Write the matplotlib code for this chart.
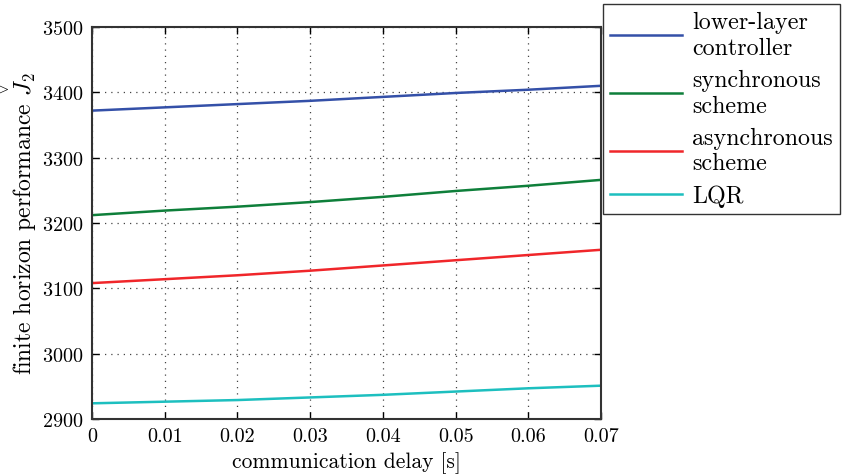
import numpy as np
import matplotlib
matplotlib.use('Agg')
import matplotlib.pyplot as plt

plt.rcParams['font.family'] = ['cmr10', 'DejaVu Serif']
plt.rcParams['mathtext.fontset'] = 'cm'
plt.rcParams['axes.formatter.use_mathtext'] = True

delay = [0, 0.01, 0.02, 0.03, 0.04, 0.05, 0.06, 0.07]
lower_layer = [3372, 3377, 3382, 3387, 3393, 3399, 3404, 3410]
synchronous = [3212, 3219, 3225, 3232, 3240, 3249, 3257, 3266]
asynchronous = [3108, 3114, 3120, 3127, 3135, 3143, 3151, 3159]
lqr = [2924, 2926.5, 2929, 2933, 2937, 2942, 2947, 2951]

labels = ['lower-layer\ncontroller', 'synchronous\nscheme', 'asynchronous\nscheme', 'LQR']
colors = ['#3450a8', '#0e7f3a', '#f0262a', '#1dbfbf']

fig = plt.figure(figsize=(8.42, 4.77), dpi=100)
ax = fig.add_axes([0.1093, 0.1195, 0.6045, 0.8218])

for ys, lab, c in zip([lower_layer, synchronous, asynchronous, lqr], labels, colors):
    ax.plot(delay, ys, color=c, lw=1.8, label=lab)

ax.set_xlim(0, 0.07)
ax.set_ylim(2900, 3500)
ax.set_xticks(delay)
ax.set_xticklabels(['0', '0.01', '0.02', '0.03', '0.04', '0.05', '0.06', '0.07'])
ax.set_yticks(np.arange(2900, 3501, 100))
ax.grid(True, linestyle=(0, (1, 4)), color='#444444', lw=0.9)
ax.tick_params(direction='in', length=5, width=1, top=True, right=True, labelsize=14.5, pad=6)
for s in ax.spines.values():
    s.set_linewidth(1.5)
    s.set_color('#333333')

ax.set_xlabel('communication delay [s]', fontsize=15.5, labelpad=4)
ax.set_ylabel(r'finite horizon performance $\overset{\vee}{J}_2$', fontsize=17, labelpad=2)

leg = ax.legend(loc='upper left', bbox_to_anchor=(0.716, 0.9895), bbox_transform=fig.transFigure,
                fontsize=17.3, handlelength=3.0, frameon=True, fancybox=False, borderaxespad=0,
                labelspacing=0.42, handletextpad=0.4, borderpad=0.3)
leg.get_frame().set_edgecolor('black')
leg.get_frame().set_linewidth(1.0)
for t in leg.get_texts():
    t.set_linespacing(1.2)

fig.savefig('out.png', dpi=100)
